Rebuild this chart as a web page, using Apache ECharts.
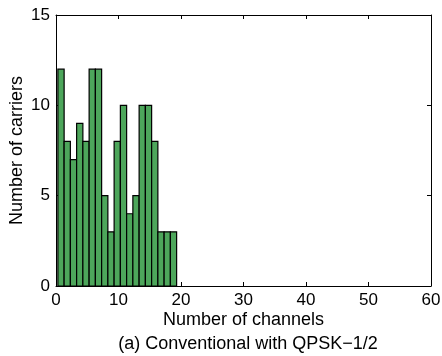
<!DOCTYPE html>
<html>
<head>
<meta charset="utf-8">
<script src="https://cdn.jsdelivr.net/npm/echarts@6/dist/echarts.min.js"></script>
<style>
  html, body { margin: 0; padding: 0; background: #fff; }
  #chart { width: 442px; height: 356px; }
</style>
</head>
<body>
<div id="chart"></div>
<script>
// Histogram: carriers per channel count
const binCenters = [0.8, 1.8, 2.8, 3.8, 4.8, 5.8, 6.8, 7.8, 8.8, 9.8,
                    10.8, 11.8, 12.8, 13.8, 14.8, 15.8, 16.8, 17.8, 18.8];
const carrierCounts = [12, 8, 7, 9, 8, 12, 12, 5, 3, 8,
                       10, 4, 5, 10, 10, 8, 3, 3, 3];
const xTicks = [0, 10, 20, 30, 40, 50, 60];
const yTicks = [0, 5, 10, 15];
const binWidth = 1;

const xLabel = 'Number of channels';
const yLabel = 'Number of carriers';
const caption = '(a) Conventional with QPSK\u22121/2';

const font = 'Liberation Sans, Arial, Helvetica, sans-serif';

const chart = echarts.init(document.getElementById('chart'), null, { renderer: 'canvas' });

const histData = binCenters.map((c, i) => [c, carrierCounts[i]]);

const axisLine = { show: true, onZero: false, lineStyle: { color: '#000', width: 1 } };
const tickIn = { show: true, inside: true, length: 4, lineStyle: { color: '#000' } };
const xMin = xTicks[0], xMax = xTicks[xTicks.length - 1];
const yMin = yTicks[0], yMax = yTicks[yTicks.length - 1];

chart.setOption({
  animation: false,
  backgroundColor: '#fff',
  grid: { left: 56, right: 11, top: 15, bottom: 70, containLabel: false, outerBoundsMode: 'none' },
  title: {
    text: caption,
    left: 243, top: 330, textAlign: 'center',
    textStyle: { fontFamily: font, fontSize: 18, fontWeight: 'normal', color: '#000' }
  },
  xAxis: [{
    type: 'value', min: xMin, max: xMax, interval: 10,
    axisLine, axisTick: tickIn, splitLine: { show: false },
    axisLabel: { color: '#000', fontFamily: font, fontSize: 17, margin: 6 },
    name: xLabel, nameLocation: 'middle', nameGap: 25, nameMoveOverlap: false,
    nameTextStyle: { color: '#000', fontFamily: font, fontSize: 18 }
  }, {
    type: 'value', position: 'top', min: xMin, max: xMax, interval: 10,
    axisLine, axisTick: tickIn, axisLabel: { show: false }, splitLine: { show: false }
  }],
  yAxis: [{
    type: 'value', min: yMin, max: yMax, interval: 5,
    axisLine, axisTick: tickIn, splitLine: { show: false },
    axisLabel: { color: '#000', fontFamily: font, fontSize: 17, margin: 6 },
    name: yLabel, nameLocation: 'middle', nameGap: 30, nameRotate: 90, nameMoveOverlap: false,
    nameTextStyle: { color: '#000', fontFamily: font, fontSize: 18 }
  }, {
    type: 'value', position: 'right', min: yMin, max: yMax, interval: 5,
    axisLine, axisTick: tickIn, axisLabel: { show: false }, splitLine: { show: false }
  }],
  series: [{
    type: 'custom',
    data: histData,
    renderItem: function (params, api) {
      const c = api.value(0), v = api.value(1);
      const p0 = api.coord([c - binWidth / 2, v]);
      const p1 = api.coord([c + binWidth / 2, 0]);
      return {
        type: 'rect',
        shape: { x: p0[0], y: p0[1], width: p1[0] - p0[0], height: p1[1] - p0[1] },
        style: { fill: '#4da65b', stroke: '#000', lineWidth: 1.2 }
      };
    }
  }]
});
</script>
</body>
</html>
